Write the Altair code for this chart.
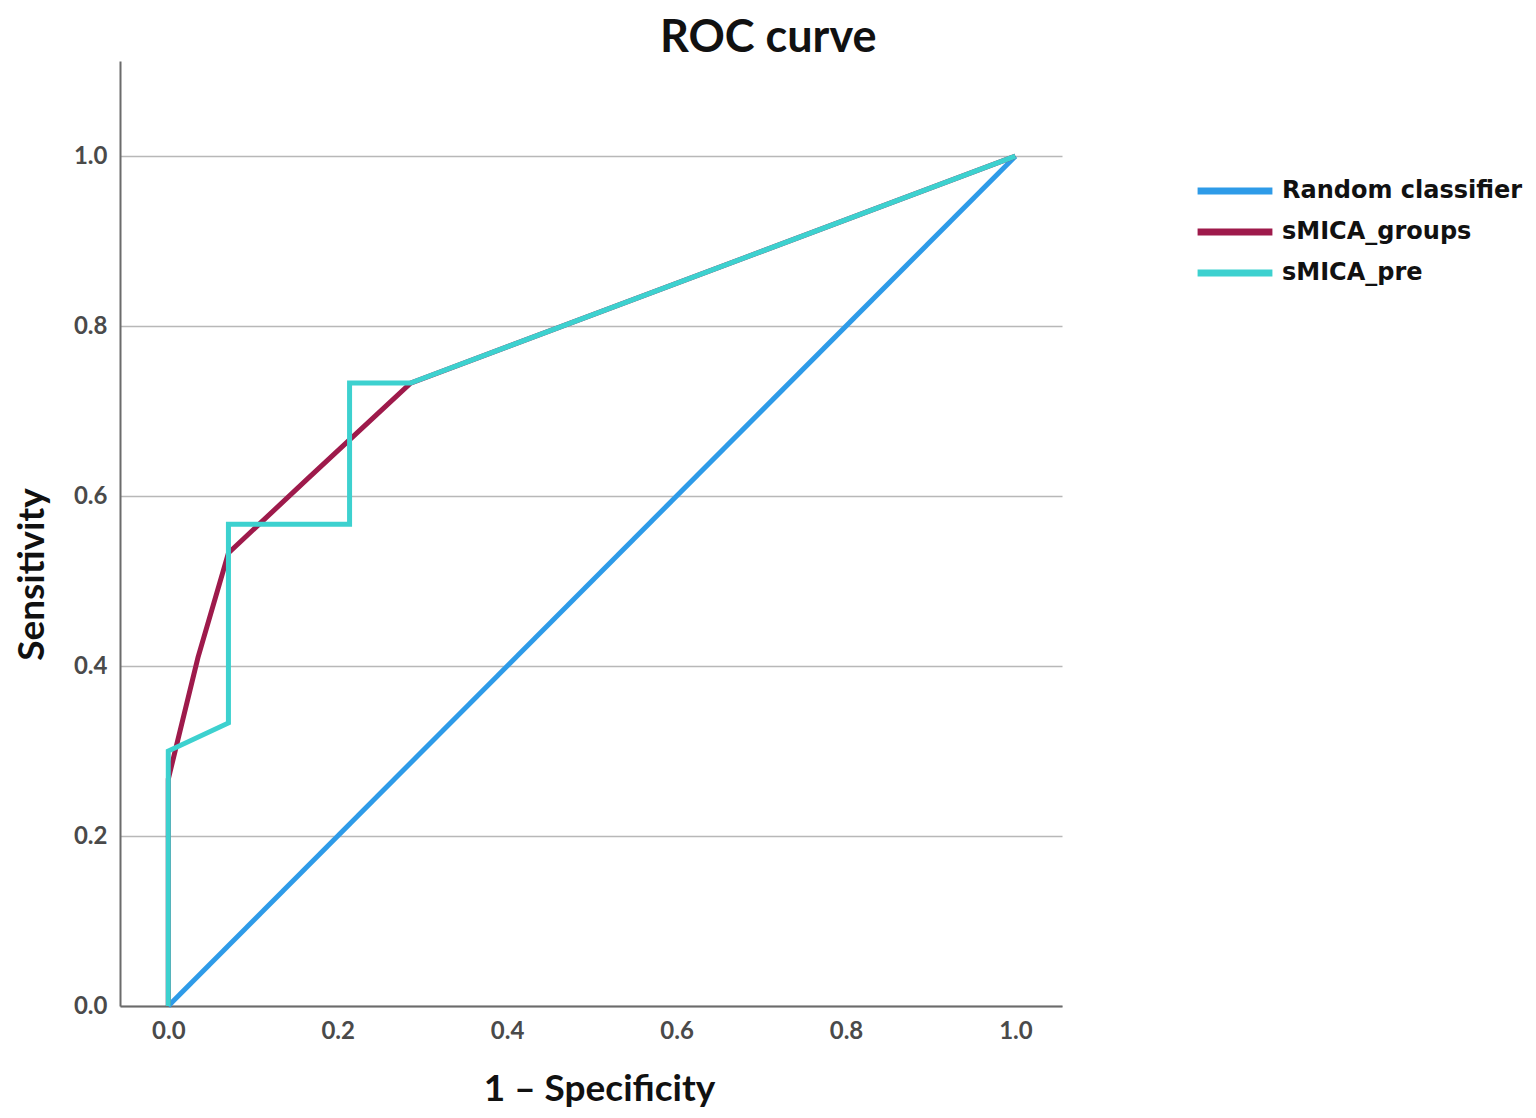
import altair as alt
import pandas as pd

series_names = ["Random classifier", "sMICA_groups", "sMICA_pre"]
series_colors = ["#2e9be8", "#9e1a4b", "#3dd1cf"]

random_x = [0.0, 1.0]
random_y = [0.0, 1.0]

groups_x = [0.0, 0.0, 0.035, 0.071, 0.164, 0.286, 1.0]
groups_y = [0.0, 0.267, 0.41, 0.533, 0.62, 0.733, 1.0]

pre_x = [0.0, 0.0, 0.071, 0.071, 0.214, 0.214, 0.286, 1.0]
pre_y = [0.0, 0.300, 0.333, 0.567, 0.567, 0.733, 0.733, 1.0]

tick_values = [0.0, 0.2, 0.4, 0.6, 0.8, 1.0]

rows = []
for name, xs, ys in zip(series_names, [random_x, groups_x, pre_x], [random_y, groups_y, pre_y]):
    for i, (a, b) in enumerate(zip(xs, ys)):
        rows.append({"series": name, "fpr": a, "tpr": b, "idx": i})
df = pd.DataFrame(rows)

FONT = "Lato"

chart = alt.Chart(df).mark_line(strokeWidth=5, strokeJoin="miter", strokeCap="butt").encode(
    x=alt.X("fpr:Q", title="1 – Specificity",
            scale=alt.Scale(domain=[-0.057, 1.055], nice=False, zero=False),
            axis=alt.Axis(values=tick_values, format=".1f", grid=False, ticks=False,
                          labelFontSize=24, labelFontWeight="bold", labelColor="#4a4a4a",
                          labelPadding=13,
                          titleFontSize=37, titleFontWeight="bold", titleColor="#111",
                          titlePadding=28, titleX=479, domainColor="#6b6b6b", domainWidth=2,
                          labelFont=FONT, titleFont=FONT)),
    y=alt.Y("tpr:Q", title="Sensitivity",
            scale=alt.Scale(domain=[0, 1.112], nice=False, zero=False),
            axis=alt.Axis(values=tick_values, format=".1f", grid=True, ticks=False,
                          gridColor="#b8b8b8", gridWidth=1.5,
                          labelFontSize=24, labelFontWeight="bold", labelColor="#4a4a4a",
                          labelPadding=13,
                          titleFontSize=37, titleFontWeight="bold", titleColor="#111",
                          titlePadding=22, titleY=513, domainColor="#6b6b6b", domainWidth=2,
                          labelFont=FONT, titleFont=FONT)),
    color=alt.Color("series:N", sort=series_names,
                    scale=alt.Scale(domain=series_names, range=series_colors),
                    legend=alt.Legend(title=None, orient="none", legendX=1074, legendY=115,
                                      symbolType="stroke", symbolSize=5600,
                                      symbolStrokeWidth=7, labelFontSize=24,
                                      labelFontWeight="bold", labelFont="DejaVu Sans",
                                      labelColor="#111", labelOffset=6, labelLimit=500,
                                      clipHeight=30, rowPadding=11, padding=0)),
    order=alt.Order("idx:Q"),
).properties(
    width=942, height=945,
    padding={"top": 8, "left": 5, "right": 5, "bottom": 5},
    title=alt.TitleParams("ROC curve", fontSize=45, font=FONT, fontWeight="bold",
                          color="#111", anchor="middle", frame="bounds", offset=0),
).configure_view(stroke=None)

chart.save("out.html", embed_options={"renderer": "svg", "actions": False})
